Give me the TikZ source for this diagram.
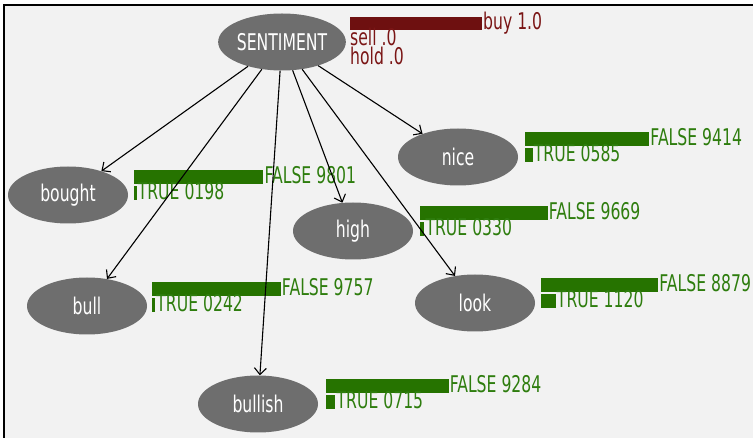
\documentclass[tikz,border=0pt]{standalone}
\usepackage{fontspec}
\setmainfont{DejaVu Sans}[FakeStretch=0.68]
\usetikzlibrary{shapes.geometric,arrows.meta}
\definecolor{bg}{HTML}{F2F2F2}
\definecolor{nodegray}{HTML}{6E6E6E}
\definecolor{barGreen}{HTML}{267300}
\definecolor{txtGreen}{HTML}{2E7D0E}
\definecolor{barRed}{HTML}{6E1010}
\definecolor{txtRed}{HTML}{7A1515}
\newcommand\probpair[7]{%
  \fill[gbar] (#2,#3) rectangle ++(132*#4,14);
  \node[glbl] (#1f) at (#2+132*#4+1,#3+14) {FALSE #6};
  \fill[gbar] (#2,#3+16) rectangle ++(132*#5,14);
  \node[glbl] (#1t) at (#2+132*#5+1,#3+30) {TRUE #7};
}
\begin{document}
\begin{tikzpicture}[x=1pt,y=-1pt,
  var/.style={ellipse, fill=nodegray, minimum width=120pt, minimum height=57pt, inner sep=0pt, text=white, font=\fontsize{23}{23}\selectfont},
  edge/.style={-{Straight Barb[length=6.5pt,width=12pt]}, line width=1.1pt, black},
  gbar/.style={fill=barGreen},
  glbl/.style={text=txtGreen, anchor=base west, inner sep=0pt, font=\fontsize{23}{23}\selectfont},
  rlbl/.style={text=txtRed, anchor=base west, inner sep=0pt, font=\fontsize{23}{23}\selectfont},
]
\useasboundingbox (0,0) rectangle (753,438);
\clip (0,0) rectangle (753,438);
\fill[white] (0,0) rectangle (753,438);
\fill[bg] (4,5) rectangle (753,438);
\draw[line width=2.2pt] (4,438) -- (4,5) -- (753,5);

\node[var] (S) at (282,42) {SENTIMENT};
\node[var] (bought) at (68,195) {bought};
\node[var] (nice) at (458,157) {nice};
\node[var] (high) at (353,231) {high};
\node[var] (bull) at (87,306) {bull};
\node[var] (look) at (475,303) {look};
\node[var] (bullish) at (258,404) {bullish};

\fill[barRed] (350,17) rectangle (482,30);
\node[rlbl] (buy) at (483,30) {buy 1.0};
\node[rlbl] (sell) at (350,46) {sell .0};
\node[rlbl] (hold) at (350,65) {hold .0};

\probpair{bought}{134}{170}{0.9801}{0.0198}{9801}{0198}
\probpair{nice}{525}{132}{0.9414}{0.0585}{9414}{0585}
\probpair{high}{420}{206}{0.9669}{0.0330}{9669}{0330}
\probpair{bull}{152}{282}{0.9757}{0.0242}{9757}{0242}
\probpair{look}{541}{278}{0.8879}{0.1120}{8879}{1120}
\probpair{bullish}{326}{379}{0.9284}{0.0715}{9284}{0715}

\draw[edge] (S) -- (bought);
\draw[edge] (S) -- (nice);
\draw[edge] (S) -- (high);
\draw[edge] (S) -- (bull);
\draw[edge] (S) -- (look);
\draw[edge] (S) -- (bullish);
\end{tikzpicture}
\end{document}
